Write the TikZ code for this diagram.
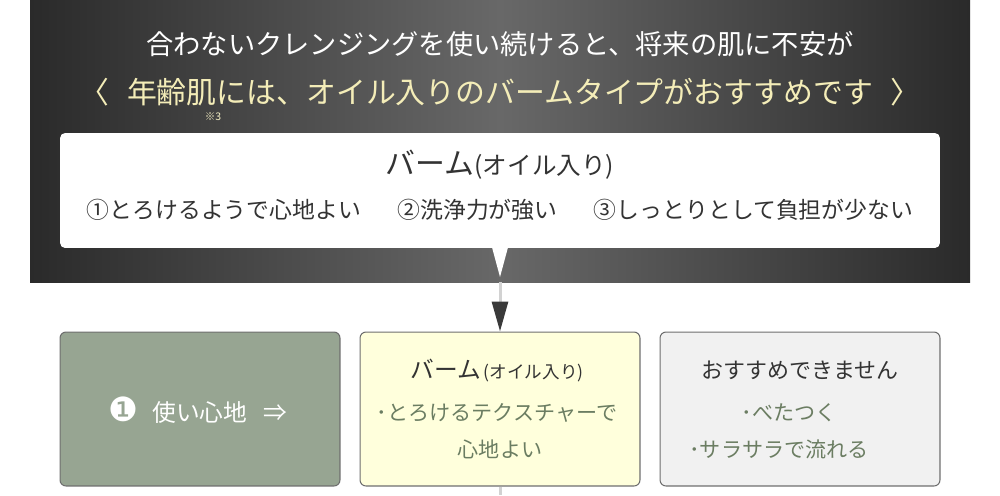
\documentclass[tikz,border=0pt]{standalone}
\usepackage{fontspec}
\setmainfont{Noto Sans CJK JP}
\newfontfamily\dingfont{DejaVu Sans}
\usetikzlibrary{positioning, arrows.meta, calc}
\definecolor{bandedge}{HTML}{2A2A2A}
\definecolor{bandmid}{HTML}{686868}
\definecolor{catchyellow}{HTML}{F4EDB8}
\definecolor{sagefill}{HTML}{97A592}
\definecolor{creamfill}{HTML}{FFFFDC}
\definecolor{palefill}{HTML}{F1F1F1}
\definecolor{boxrule}{HTML}{6E6E6E}
\definecolor{sagetext}{HTML}{6B7D62}
\definecolor{inkgray}{HTML}{333333}
\definecolor{stemgray}{HTML}{D2D2D2}
\definecolor{tipgray}{HTML}{3A3A3A}

\begin{document}
\begin{tikzpicture}[
      x=0.02cm, y=-0.02cm,
      every node/.style={inner sep=0pt, text=inkgray},
      panel/.style={draw=boxrule, line width=0.6pt, rounded corners=0.12cm, fill=#1, minimum width=5.6cm, minimum height=3.08cm},
      headline/.style={font={\fontsize{#1}{#1}\selectfont}},
      bullet/.style={text=sagetext, font={\fontsize{12}{12}\selectfont}},
      >=Stealth,
    ]
    \useasboundingbox (0,0) rectangle (1000,495);

    % dark band with the two lead lines
    \fill[left color=bandedge, right color=bandedge, middle color=bandmid] (30,0) rectangle (970,282);
    \node[headline=15.5, text=white] (lead) at (500,44)
      {合わないクレンジングを使い続けると、将来の肌に不安が};
    \node[headline=17, text=catchyellow] (catch) at (500,92)
      {〈\hspace{0.6em}年齢肌には、オイル入りのバームタイプがおすすめです\hspace{0.6em}〉};
    \node[headline=6, text=catchyellow!80!white] (note) at (213,117) {※3};

    % white callout
    \node[fill=white, rounded corners=0.1cm, minimum width=17.6cm, minimum height=2.3cm] (balm) at (500,190.5) {};
    \fill[white] ($(balm.south)+(-8,-1)$) -- ($(balm.south)+(8,-1)$) -- (500,277) -- cycle;
    \node[headline=17] (balmtitle) at (500,165)
      {バーム{\fontsize{14}{14}\selectfont(オイル入り)}};
    \node[headline=13] (balmpoints) at (500,210)
      {①とろけるようで心地よい\hspace{1.6em}②洗浄力が強い\hspace{1.6em}③しっとりとして負担が少ない};

    % comparison row
    \node[panel=sagefill] (use) at (200,409) {};
    \node[panel=creamfill] (balm2) at (500,409) {};
    \node[panel=palefill] (ng) at (800,409) {};

    \node[headline=13.5, text=white] (uselabel) at (198,410)
      {{\dingfont\fontsize{19}{19}\selectfont ❶}\hspace{0.6em}使い心地\hspace{0.7em}⇒};

    \node[headline=13.5] (balm2title) at (497,370)
      {バーム{\fontsize{10}{10}\selectfont\,(オイル入り)}};
    \node[bullet] (balm2a) at (497,413) {･とろけるテクスチャーで};
    \node[bullet] (balm2b) at (500,449) {心地よい};

    \node[headline=12.5] (ngtitle) at (800,370) {おすすめできません};
    \node[bullet] (nga) at (789,413) {･べたつく};
    \node[bullet] (ngb) at (779,449) {･サラサラで流れる};

    % connector
    \coordinate (bandfoot) at (500,282);
    \coordinate (tail) at (500,495);
    \draw[stemgray, line width=0.06cm, -{Triangle[length=0.6cm, width=0.32cm, color=tipgray]}] (bandfoot) -- (balm2.north);
    \draw[stemgray, line width=0.06cm] (balm2.south) -- (tail);
  \end{tikzpicture}
\end{document}
